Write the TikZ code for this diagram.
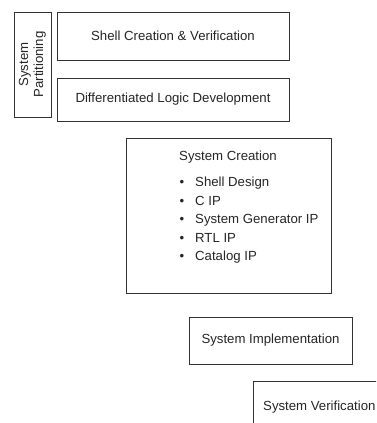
\documentclass[tikz,border=0pt]{standalone}
\usepackage{fontspec}
\setmainfont{Liberation Sans}
\begin{document}
\begin{tikzpicture}[x=1pt,y=-1pt,
  stage/.style={draw=black!80,line width=1pt,fill=white,inner sep=0pt,
    minimum width=#1},
  lbl/.style={text=black!85,font=\fontsize{13.2}{15}\selectfont,inner sep=0pt},
  item/.style={lbl,anchor=base west}]
\useasboundingbox (0,0) rectangle (376,423);
\clip (0,0) rectangle (376,423);

% phase column and the two parallel tracks
\node[stage=37pt,minimum height=105pt] (part) at (32.5,64.5) {};
\node[lbl,rotate=90,align=center] (partlbl) at (part.center) {System\\Partitioning};
\node[stage=232pt,minimum height=48pt] (shell) at (173,36) {};
\node[lbl] (shelllbl) at (shell.center) {Shell Creation \& Verification};
\node[stage=232pt,minimum height=43pt] (diff) at (173,99.5) {};
\node[lbl] (difflbl) at (diff.center) {Differentiated Logic Development};

% system creation with its sources
\node[stage=205pt,minimum height=155pt] (create) at (228.5,215.5) {};
\node[item] (createlbl) at (179,160.7) {System Creation};
\foreach \y/\t [count=\i] in {186.5/Shell Design,205/C IP,223.5/System Generator IP,242/RTL IP,260.5/Catalog IP}{
  \node[item] (dot\i) at (179.5,\y) {•};
  \node[item] (src\i) at (195,\y) {\t};
}

% later stages
\node[stage=163pt,minimum height=47pt] (impl) at (270.5,340.5) {};
\node[lbl] (impllbl) at (impl.center) {System Implementation};
\node[stage=147pt,minimum height=59pt] (verif) at (326.5,410.5) {};
\node[item] (veriflbl) at (263,410.7) {System Verification};
\end{tikzpicture}
\end{document}
